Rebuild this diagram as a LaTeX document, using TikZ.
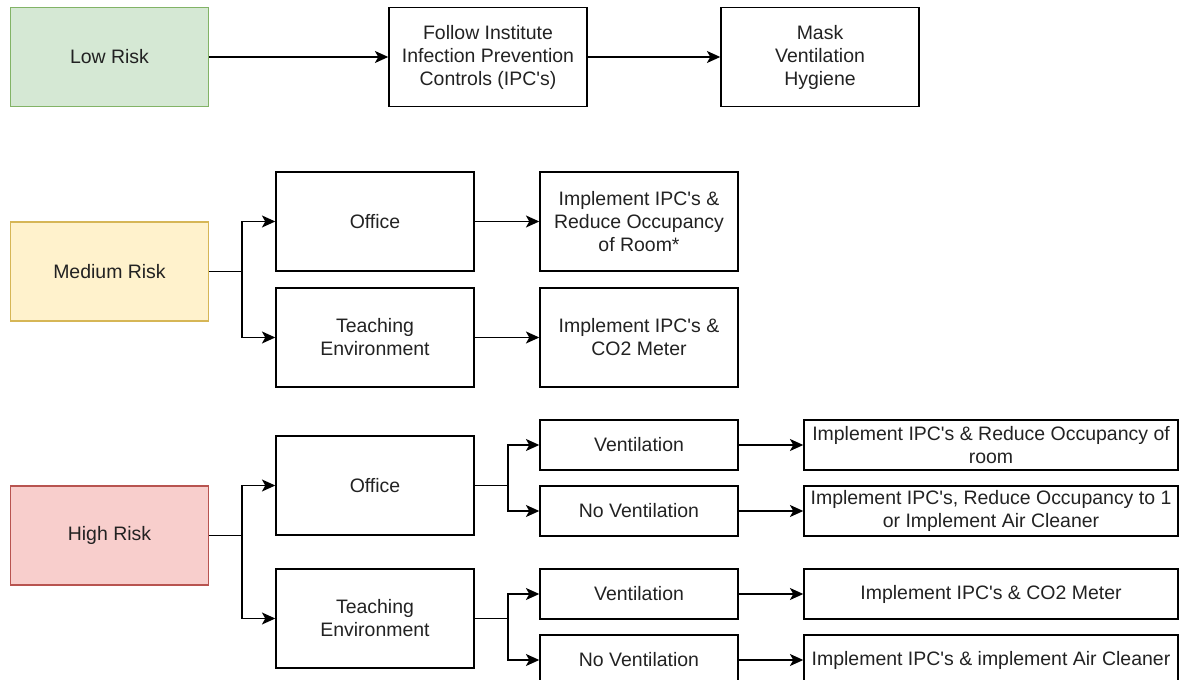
\documentclass[tikz,border=0pt]{standalone}
\usepackage{fontspec}
\setmainfont{Liberation Sans}
\usetikzlibrary{arrows.meta}
\definecolor{lowfill}{HTML}{D5E8D4}\definecolor{lowline}{HTML}{82B366}
\definecolor{medfill}{HTML}{FFF2CC}\definecolor{medline}{HTML}{D6B656}
\definecolor{hifill}{HTML}{F8CECC}\definecolor{hiline}{HTML}{B85450}
\definecolor{txt}{HTML}{222222}
\newcommand{\apos}{\textquotesingle}
\begin{document}
\begin{tikzpicture}[x=0.75pt,y=-0.75pt,
  base/.style={draw=black,line width=1.1pt,inner sep=0pt,align=center,text=txt,
    font=\fontsize{14.6}{17.25}\selectfont},
  big/.style={base,minimum width=148.5pt,minimum height=74.25pt},
  small/.style={base,minimum width=148.5pt,minimum height=37.5pt},
  wide/.style={base,minimum width=280.5pt,minimum height=37.5pt},
  risk/.style={big,line width=0.8pt},
  arr/.style={line width=1.1pt,-{Stealth[length=10pt,width=9pt,inset=2.5pt]}},
  ln/.style={line width=1.1pt}]
\useasboundingbox (0,0) rectangle (1185,680);
% low risk row
\node[risk,fill=lowfill,draw=lowline] (low) at (109.5,57) {Low Risk};
\node[big] (follow) at (488,57) {Follow Institute\\Infection Prevention\\Controls (IPC\apos s)};
\node[big] (mask) at (820,57) {Mask\\Ventilation\\Hygiene};
\draw[arr] (low.east) -- (follow.west);
\draw[arr] (follow.east) -- (mask.west);
% medium risk
\node[risk,fill=medfill,draw=medline] (med) at (109.5,271.5) {Medium Risk};
\node[big] (moff) at (375,221.5) {Office};
\node[big] (mteach) at (375,337.5) {Teaching\\Environment};
\node[big] (mres1) at (639,221.5) {Implement IPC\apos s \&\\Reduce Occupancy\\of Room*};
\node[big] (mres2) at (639,337.5) {Implement IPC\apos s \&\\CO2 Meter};
\coordinate (mb) at (242,271.5);
\draw[ln] (med.east) -- (mb);
\draw[arr] (mb) |- (moff.west);
\draw[arr] (mb) |- (mteach.west);
\draw[arr] (moff.east) -- (mres1.west);
\draw[arr] (mteach.east) -- (mres2.west);
% high risk
\node[risk,fill=hifill,draw=hiline] (high) at (109.5,535.5) {High Risk};
\node[big] (hoff) at (375,485.5) {Office};
\node[big] (hteach) at (375,618.5) {Teaching\\Environment};
\node[small] (v1) at (639,445) {Ventilation};
\node[small] (nv1) at (639,511) {No Ventilation};
\node[small] (v2) at (639,594) {Ventilation};
\node[small] (nv2) at (639,660) {No Ventilation};
\node[wide] (r1) at (991,445) {Implement IPC\apos s \& Reduce Occupancy of\\room};
\node[wide] (r2) at (991,511) {Implement IPC\apos s, Reduce Occupancy to 1\\or Implement Air Cleaner};
\node[wide] (r3) at (991,594) {Implement IPC\apos s \& CO2 Meter};
\node[wide] (r4) at (991,660) {Implement IPC\apos s \& implement Air Cleaner};
\coordinate (hb) at (242,535.5);
\draw[ln] (high.east) -- (hb);
\draw[arr] (hb) |- (hoff.west);
\draw[arr] (hb) |- (hteach.west);
\coordinate (ob) at (508,485.5);
\draw[ln] (hoff.east) -- (ob);
\draw[arr] (ob) |- (v1.west);
\draw[arr] (ob) |- (nv1.west);
\coordinate (tb) at (508,618.5);
\draw[ln] (hteach.east) -- (tb);
\draw[arr] (tb) |- (v2.west);
\draw[arr] (tb) |- (nv2.west);
\draw[arr] (v1.east) -- (r1.west);
\draw[arr] (nv1.east) -- (r2.west);
\draw[arr] (v2.east) -- (r3.west);
\draw[arr] (nv2.east) -- (r4.west);
\end{tikzpicture}
\end{document}
